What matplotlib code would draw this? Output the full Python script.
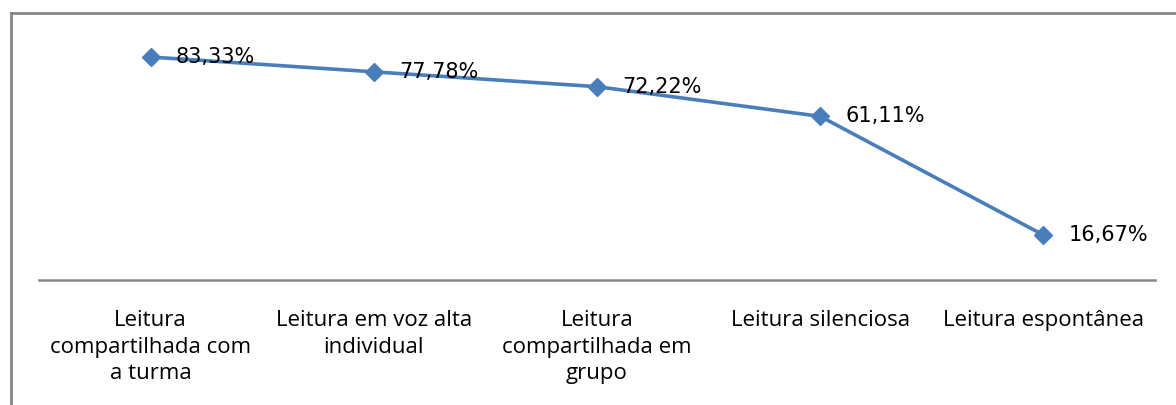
import matplotlib
matplotlib.use("Agg")
import matplotlib.pyplot as plt
from matplotlib.lines import Line2D

categories = ["Leitura\ncompartilhada com\na turma",
              "Leitura em voz alta\nindividual",
              "Leitura\ncompartilhada em\ngrupo",
              "Leitura silenciosa",
              "Leitura espontânea"]
values = [83.33, 77.78, 72.22, 61.11, 16.67]
value_labels = ["83,33%", "77,78%", "72,22%", "61,11%", "16,67%"]

W, H = 1176, 405
fig = plt.figure(figsize=(W / 100, H / 100), dpi=100)
ax = fig.add_axes([39 / W, (H - 279.5) / H, (1155 - 39) / W, (279.5 - 12.5) / H])

x = list(range(len(categories)))
color = "#4A7EBB"
ax.plot(x, values, color=color, lw=2.6, marker="D", markersize=9,
        markerfacecolor=color, markeredgecolor=color, zorder=3)

for xi, v, lab in zip(x, values, value_labels):
    ax.annotate(lab, (xi, v), xytext=(18, 0), textcoords="offset points",
                ha="left", va="center", fontsize=15, family="DejaVu Sans",
                color="black", zorder=4)

ax.set_xlim(-0.5, len(categories) - 0.5)
ax.set_ylim(0, 100)
ax.set_xticks(x)
ax.set_xticklabels(categories, fontsize=16, family="Open Sans", linespacing=1.35)
ax.tick_params(axis="x", length=0, pad=22)
ax.set_yticks([])
for s in ["top", "left", "right"]:
    ax.spines[s].set_visible(False)
ax.spines["bottom"].set_color("#868686")
ax.spines["bottom"].set_linewidth(1.8)

# outer chart frame
fig.add_artist(Line2D([10.5 / W, 10.5 / W], [0, (H - 13) / H], transform=fig.transFigure,
                      color="#868686", lw=2))
fig.add_artist(Line2D([10.5 / W, 1], [(H - 13) / H, (H - 13) / H], transform=fig.transFigure,
                      color="#868686", lw=2))

fig.savefig("out.png", dpi=100)
